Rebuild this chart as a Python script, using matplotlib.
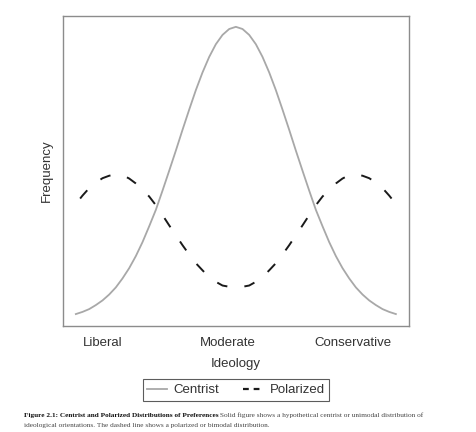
import matplotlib
matplotlib.use("Agg")
import matplotlib.pyplot as plt
from matplotlib.lines import Line2D

# ideology scale (symmetric around the moderate centre), right half; left half mirrors it
ideology_half = [0.0, 0.125, 0.25, 0.375, 0.5, 0.625, 0.75, 0.875, 1.0, 1.125, 1.25, 1.375,
                 1.5, 1.625, 1.75, 1.875, 2.0, 2.125, 2.25, 2.375, 2.5, 2.625, 2.75, 2.875, 3.0]

# frequency (0 = bottom of frame, 1 = top)
centrist_half = [0.965, 0.958, 0.939, 0.909, 0.868, 0.818, 0.761, 0.698, 0.633, 0.566, 0.501, 0.437,
                 0.375, 0.322, 0.271, 0.226, 0.187, 0.154, 0.125, 0.102, 0.083, 0.068, 0.055, 0.046, 0.039]
polarized_half = [0.126, 0.127, 0.131, 0.143, 0.158, 0.180, 0.203, 0.231, 0.261, 0.293, 0.325, 0.358,
                  0.390, 0.418, 0.440, 0.460, 0.476, 0.487, 0.489, 0.485, 0.477, 0.463, 0.445, 0.421, 0.394]

tick_pos = [-2.5, -0.15, 2.2]
tick_labels = ["Liberal", "Moderate", "Conservative"]

plt.rcParams['font.family'] = ['Liberation Sans', 'DejaVu Sans']

fig = plt.figure(figsize=(4.76, 4.32), dpi=100)
ax = fig.add_axes([0.132, 0.245, 0.727, 0.718])

left_x = [-v for v in ideology_half[::-1]]
ax.plot(left_x + ideology_half[1:], centrist_half[::-1] + centrist_half[1:],
        color='#a8a8a8', lw=1.3)

# dashed curve drawn outward from the centre so the dash pattern is symmetric
on, off = 5.6, 8.8
dash_style = (on + off / 2, (on, off))
for sign in (-1, 1):
    ax.plot([sign * v for v in ideology_half], polarized_half,
            color='#1a1a1a', lw=1.4, linestyle=dash_style)

ax.set_xlim(-3.244, 3.244)
ax.set_ylim(0, 1)
ax.set_yticks([])
ax.set_xticks(tick_pos)
ax.set_xticklabels(tick_labels, fontsize=9.5, color='#333333')
ax.tick_params(axis='x', length=0, pad=8)
for s in ax.spines.values():
    s.set_color('#8c8c8c')
    s.set_linewidth(1.0)

ax.set_xlabel("Ideology", fontsize=9.5, color='#333333', labelpad=6)
ax.set_ylabel("Frequency", fontsize=9.5, color='#333333', labelpad=7)

handles = [Line2D([], [], color='#a8a8a8', lw=1.3),
           Line2D([], [], color='#1a1a1a', lw=1.6, dashes=(2.6, 2.2))]
leg = ax.legend(handles, ["Centrist", "Polarized"], loc='upper center',
                bbox_to_anchor=(0.5, -0.15), ncol=2, frameon=True,
                fancybox=False, edgecolor='#333333', fontsize=9.5, handlelength=1.5,
                columnspacing=1.8, handletextpad=0.5, borderpad=0.35)
leg.get_frame().set_linewidth(0.8)
for t in leg.get_texts():
    t.set_color('#333333')

# caption
cap_font = ['Liberation Serif', 'DejaVu Serif']
cap_size = 5.2
t1 = fig.text(0.05, 1 - 417 / 432, "Figure 2.1: Centrist and Polarized Distributions of Preferences",
              fontsize=cap_size, fontweight='bold', family=cap_font, color='#111111', va='baseline')
ax.annotate(" Solid figure shows a hypothetical centrist or unimodal distribution of",
            xy=(1, 0), xycoords=t1, fontsize=cap_size, family=cap_font, color='#444444',
            va='bottom', ha='left', annotation_clip=False)
fig.text(0.05, 1 - 427 / 432,
         "ideological orientations. The dashed line shows a polarized or bimodal distribution.",
         fontsize=cap_size, family=cap_font, color='#444444', va='baseline')

fig.savefig("out.png", dpi=100)
